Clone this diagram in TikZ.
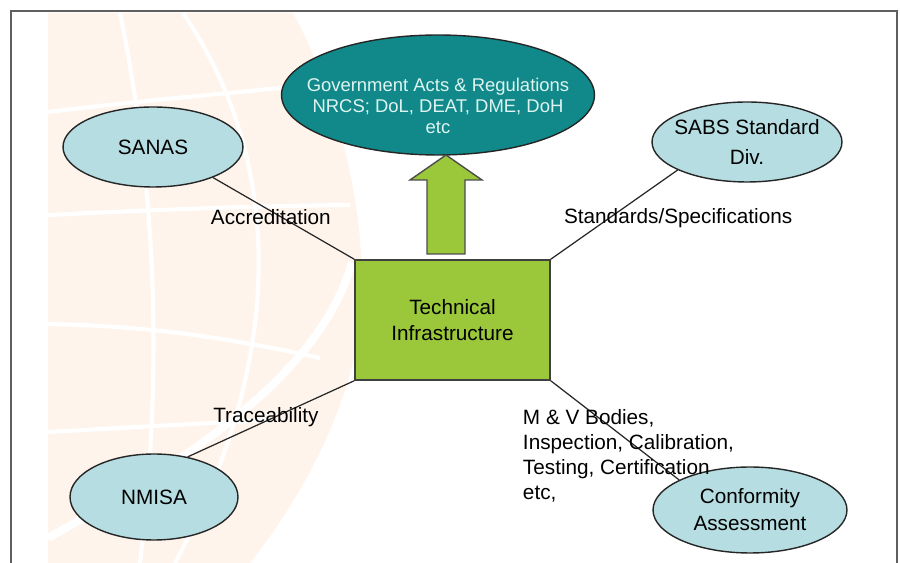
\documentclass[tikz,border=0pt]{standalone}
\usepackage{fontspec}
\setmainfont{Liberation Sans}
\usetikzlibrary{shapes.geometric,calc}

\definecolor{peach}{RGB}{254,244,235}
\definecolor{paleblue}{RGB}{182,221,225}
\definecolor{govteal}{RGB}{17,137,138}
\definecolor{govtext}{RGB}{222,244,240}
\definecolor{leafgreen}{RGB}{155,200,58}
\definecolor{framegray}{RGB}{95,95,95}

\begin{document}
\begin{tikzpicture}[x=0.02cm,y=-0.02cm,
  body node/.style={ellipse,draw=black!85,fill=paleblue,line width=0.8pt,
    inner sep=0pt},
  body text/.style={font=\fontsize{11.8}{15.3}\selectfont,align=center},
  gov text/.style={font=\fontsize{10.5}{11.9}\selectfont,align=center,
    text=govtext},
  infra node/.style={rectangle,draw=black!75,fill=leafgreen,line width=0.9pt,
    minimum width=3.9cm,minimum height=2.4cm,align=center,
    font=\fontsize{11.8}{14.7}\selectfont},
  link/.style={draw=black!85,line width=0.7pt},
  globe line/.style={draw=white,line width=2.3pt}]

  \useasboundingbox (0,0) rectangle (900,563);

  % faint globe behind the diagram
  \begin{scope}
    \clip (48,13) rectangle (896,563);
    \fill[peach] (48,13) -- (293,13) .. controls (335,90) and (365,200) .. (362,300)
      .. controls (358,400) and (300,500) .. (250,563) -- (48,563) -- cycle;
    \draw[globe line] (120,13) .. controls (148,150) and (168,330) .. (140,563);
    \draw[globe line] (183,13) .. controls (270,140) and (300,330) .. (175,563);
    \draw[globe line] (48,112) .. controls (130,102) and (210,95) .. (300,86);
    \draw[globe line] (48,215) .. controls (150,210) and (250,206) .. (350,205);
    \draw[globe line] (48,324) .. controls (150,326) and (230,338) .. (320,358);
    \draw[globe line] (48,432) .. controls (120,428) and (190,424) .. (270,420);
    \draw[globe line,line width=4.5pt] (48,538) .. controls (170,470) and (320,380) .. (352,262);
  \end{scope}

  \draw[framegray,line width=0.9pt] (11,563) -- (11,11) -- (897,11) -- (897,563);

  \node[ellipse,draw=black!85,fill=govteal,line width=0.8pt,inner sep=0pt,
    minimum width=6.26cm,minimum height=2.4cm,
    label={[gov text,yshift=-0.22cm]center:{Government Acts \& Regulations\\
      NRCS; DoL, DEAT, DME, DoH\\etc}}] (gov) at (438,95) {};

  \node[body node,minimum width=3.6cm,minimum height=1.6cm,
    label={[body text]center:SANAS}] (sanas) at (153,147) {};
  \node[body node,minimum width=3.8cm,minimum height=1.6cm,
    label={[body text,font=\fontsize{11.8}{17}\selectfont]center:{SABS Standard\\Div.}}]
    (sabs) at (747,142) {};
  \node[body node,minimum width=3.36cm,minimum height=1.72cm,
    label={[body text]center:NMISA}] (nmisa) at (154,497) {};
  \node[body node,minimum width=3.88cm,minimum height=1.72cm,
    label={[body text]center:{Conformity\\Assessment}}] (conf) at (750,510) {};

  \node[infra node] (tech) at (452.5,320) {Technical\\Infrastructure};

  % green arrow up to the acts
  \coordinate (arrow tip) at (446,155);
  \draw[fill=leafgreen,draw=black!70,line width=0.8pt,line join=miter]
    (arrow tip) -- ++(36,25) -- ++(-17,0) -- ++(0,74) -- ++(-38,0)
    -- ++(0,-74) -- ++(-17,0) -- cycle;

  \path[link,every node/.style={font=\fontsize{11.8}{14.2}\selectfont,
      inner sep=2pt,align=left}]
    (sanas.-27)
        edge node[pos=.41,yshift=-0.12cm] (accr) {Accreditation} (tech.north west)
    (tech.north east)
        edge node[pos=.5,xshift=1.28cm,yshift=-0.08cm] (spec) {Standards/Specifications} (sabs.202)
    (nmisa.50)
        edge node[pos=.47,yshift=0.08cm] (trace) {Traceability} (tech.south west)
    (tech.south east)
        edge node[pos=.76,anchor=west,xshift=-2.59cm] (bodies)
          {M \& V Bodies,\\Inspection, Calibration,\\Testing, Certification\\etc,} (conf.157);

\end{tikzpicture}
\end{document}
